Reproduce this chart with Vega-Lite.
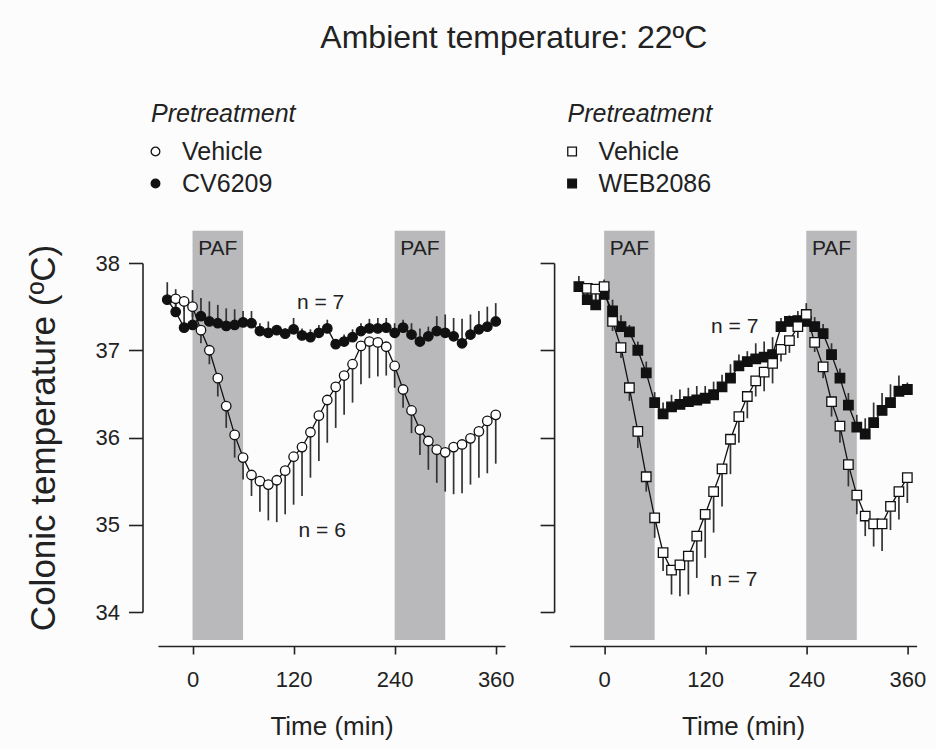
{
  "$schema": "https://vega.github.io/schema/vega-lite/v6.json",
  "background": "#fcfcfc",
  "padding": {"left": 26, "top": 22, "right": 10, "bottom": 10},
  "title": {"text": "Ambient temperature: 22ºC", "fontSize": 32, "fontWeight": "normal", "color": "#222", "anchor": "middle", "offset": 47, "dx": 38},
  "config": {
    "font": "Liberation Sans",
    "view": {"stroke": null},
    "axisX": {"offset": 34, "tickSize": 8, "domainColor": "#222", "domainWidth": 1.6, "tickColor": "#222", "tickWidth": 1.6, "labelFontSize": 22, "labelColor": "#222", "labelPadding": 15, "titleFontSize": 26, "titleFontWeight": "normal", "titleColor": "#222", "titlePadding": 23, "grid": false},
    "axisY": {"offset": 15.5, "tickSize": 14, "domainColor": "#222", "domainWidth": 1.6, "tickColor": "#222", "tickWidth": 1.6, "labelFontSize": 22, "labelColor": "#222", "labelPadding": 9, "titleFontSize": 35, "titleFontWeight": "normal", "titleColor": "#222", "titlePadding": 34, "grid": false},
    "legend": {"titleFontSize": 25, "titleFontStyle": "italic", "titleFontWeight": "normal", "titleColor": "#222", "labelFontSize": 25, "labelColor": "#222", "symbolSize": 75, "symbolStrokeWidth": 1.3, "symbolStrokeColor": "#111", "symbolOffset": -8, "rowPadding": 6, "labelOffset": 14, "titlePadding": 12, "padding": 0}
  },
  "datasets": {
    "pafL": [{"s": 0, "e": 60, "mid": 30, "label": "PAF"}, {"s": 240, "e": 300, "mid": 270, "label": "PAF"}],
    "notesL": [{"t": 152, "v": 37.54, "label": "n = 7"}, {"t": 154, "v": 34.93, "label": "n = 6"}],
    "notesR": [{"t": 155, "v": 37.27, "label": "n = 7"}, {"t": 154, "v": 34.37, "label": "n = 7"}],
    "left": [
      {"g": "CV6209", "t": -30, "m": 37.58, "e": 37.78},
      {"g": "CV6209", "t": -20, "m": 37.44, "e": 37.70},
      {"g": "CV6209", "t": -10, "m": 37.26, "e": 37.62},
      {"g": "CV6209", "t": 0, "m": 37.29, "e": 37.69},
      {"g": "CV6209", "t": 10, "m": 37.39, "e": 37.60},
      {"g": "CV6209", "t": 20, "m": 37.33, "e": 37.56},
      {"g": "CV6209", "t": 30, "m": 37.31, "e": 37.52},
      {"g": "CV6209", "t": 40, "m": 37.28, "e": 37.48},
      {"g": "CV6209", "t": 50, "m": 37.29, "e": 37.47},
      {"g": "CV6209", "t": 60, "m": 37.32, "e": 37.45},
      {"g": "CV6209", "t": 70, "m": 37.31, "e": 37.45},
      {"g": "CV6209", "t": 80, "m": 37.22, "e": 37.31},
      {"g": "CV6209", "t": 90, "m": 37.20, "e": 37.33},
      {"g": "CV6209", "t": 100, "m": 37.23, "e": 37.28},
      {"g": "CV6209", "t": 110, "m": 37.19, "e": 37.25},
      {"g": "CV6209", "t": 120, "m": 37.24, "e": 37.37},
      {"g": "CV6209", "t": 130, "m": 37.17, "e": 37.25},
      {"g": "CV6209", "t": 140, "m": 37.15, "e": 37.24},
      {"g": "CV6209", "t": 150, "m": 37.20, "e": 37.29},
      {"g": "CV6209", "t": 160, "m": 37.25, "e": 37.35},
      {"g": "CV6209", "t": 170, "m": 37.07, "e": 37.12},
      {"g": "CV6209", "t": 180, "m": 37.10, "e": 37.18},
      {"g": "CV6209", "t": 190, "m": 37.15, "e": 37.24},
      {"g": "CV6209", "t": 200, "m": 37.22, "e": 37.31},
      {"g": "CV6209", "t": 210, "m": 37.25, "e": 37.36},
      {"g": "CV6209", "t": 220, "m": 37.25, "e": 37.37},
      {"g": "CV6209", "t": 230, "m": 37.26, "e": 37.37},
      {"g": "CV6209", "t": 240, "m": 37.20, "e": 37.31},
      {"g": "CV6209", "t": 250, "m": 37.26, "e": 37.35},
      {"g": "CV6209", "t": 260, "m": 37.18, "e": 37.31},
      {"g": "CV6209", "t": 270, "m": 37.10, "e": 37.25},
      {"g": "CV6209", "t": 280, "m": 37.16, "e": 37.27},
      {"g": "CV6209", "t": 290, "m": 37.22, "e": 37.39},
      {"g": "CV6209", "t": 300, "m": 37.20, "e": 37.41},
      {"g": "CV6209", "t": 310, "m": 37.16, "e": 37.37},
      {"g": "CV6209", "t": 320, "m": 37.08, "e": 37.36},
      {"g": "CV6209", "t": 330, "m": 37.18, "e": 37.41},
      {"g": "CV6209", "t": 340, "m": 37.24, "e": 37.45},
      {"g": "CV6209", "t": 350, "m": 37.27, "e": 37.50},
      {"g": "CV6209", "t": 360, "m": 37.33, "e": 37.54},
      {"g": "Vehicle", "t": -20, "m": 37.59, "e": 37.50},
      {"g": "Vehicle", "t": -10, "m": 37.56, "e": 37.45},
      {"g": "Vehicle", "t": 0, "m": 37.50, "e": 37.38},
      {"g": "Vehicle", "t": 10, "m": 37.23, "e": 37.08},
      {"g": "Vehicle", "t": 20, "m": 37.00, "e": 36.84},
      {"g": "Vehicle", "t": 30, "m": 36.68, "e": 36.47},
      {"g": "Vehicle", "t": 40, "m": 36.36, "e": 36.11},
      {"g": "Vehicle", "t": 50, "m": 36.03, "e": 35.77},
      {"g": "Vehicle", "t": 60, "m": 35.77, "e": 35.52},
      {"g": "Vehicle", "t": 70, "m": 35.57, "e": 35.33},
      {"g": "Vehicle", "t": 80, "m": 35.50, "e": 35.15},
      {"g": "Vehicle", "t": 90, "m": 35.46, "e": 35.05},
      {"g": "Vehicle", "t": 100, "m": 35.51, "e": 35.03},
      {"g": "Vehicle", "t": 110, "m": 35.62, "e": 35.12},
      {"g": "Vehicle", "t": 120, "m": 35.78, "e": 35.23},
      {"g": "Vehicle", "t": 130, "m": 35.89, "e": 35.33},
      {"g": "Vehicle", "t": 140, "m": 36.06, "e": 35.54},
      {"g": "Vehicle", "t": 150, "m": 36.25, "e": 35.73},
      {"g": "Vehicle", "t": 160, "m": 36.43, "e": 35.94},
      {"g": "Vehicle", "t": 170, "m": 36.58, "e": 36.11},
      {"g": "Vehicle", "t": 180, "m": 36.71, "e": 36.26},
      {"g": "Vehicle", "t": 190, "m": 36.84, "e": 36.40},
      {"g": "Vehicle", "t": 200, "m": 37.05, "e": 36.61},
      {"g": "Vehicle", "t": 210, "m": 37.10, "e": 36.68},
      {"g": "Vehicle", "t": 220, "m": 37.09, "e": 36.70},
      {"g": "Vehicle", "t": 230, "m": 37.04, "e": 36.71},
      {"g": "Vehicle", "t": 240, "m": 36.82, "e": 36.57},
      {"g": "Vehicle", "t": 250, "m": 36.55, "e": 36.34},
      {"g": "Vehicle", "t": 260, "m": 36.31, "e": 36.05},
      {"g": "Vehicle", "t": 270, "m": 36.09, "e": 35.80},
      {"g": "Vehicle", "t": 280, "m": 35.96, "e": 35.63},
      {"g": "Vehicle", "t": 290, "m": 35.86, "e": 35.48},
      {"g": "Vehicle", "t": 300, "m": 35.83, "e": 35.38},
      {"g": "Vehicle", "t": 310, "m": 35.89, "e": 35.35},
      {"g": "Vehicle", "t": 320, "m": 35.92, "e": 35.36},
      {"g": "Vehicle", "t": 330, "m": 35.99, "e": 35.46},
      {"g": "Vehicle", "t": 340, "m": 36.07, "e": 35.54},
      {"g": "Vehicle", "t": 350, "m": 36.19, "e": 35.59},
      {"g": "Vehicle", "t": 360, "m": 36.26, "e": 35.70}
    ],
    "right": [
      {"g": "WEB2086", "t": -30, "m": 37.73, "e": 37.85},
      {"g": "WEB2086", "t": -20, "m": 37.58, "e": 37.72},
      {"g": "WEB2086", "t": -10, "m": 37.52, "e": 37.68},
      {"g": "WEB2086", "t": 0, "m": 37.64, "e": 37.81},
      {"g": "WEB2086", "t": 10, "m": 37.45, "e": 37.58},
      {"g": "WEB2086", "t": 20, "m": 37.27, "e": 37.40},
      {"g": "WEB2086", "t": 30, "m": 37.21, "e": 37.29},
      {"g": "WEB2086", "t": 40, "m": 37.00, "e": 37.10},
      {"g": "WEB2086", "t": 50, "m": 36.74, "e": 36.87},
      {"g": "WEB2086", "t": 60, "m": 36.40, "e": 36.52},
      {"g": "WEB2086", "t": 70, "m": 36.27, "e": 36.40},
      {"g": "WEB2086", "t": 80, "m": 36.35, "e": 36.49},
      {"g": "WEB2086", "t": 90, "m": 36.38, "e": 36.55},
      {"g": "WEB2086", "t": 100, "m": 36.41, "e": 36.57},
      {"g": "WEB2086", "t": 110, "m": 36.43, "e": 36.59},
      {"g": "WEB2086", "t": 120, "m": 36.45, "e": 36.59},
      {"g": "WEB2086", "t": 130, "m": 36.49, "e": 36.64},
      {"g": "WEB2086", "t": 140, "m": 36.58, "e": 36.72},
      {"g": "WEB2086", "t": 150, "m": 36.68, "e": 36.84},
      {"g": "WEB2086", "t": 160, "m": 36.82, "e": 36.95},
      {"g": "WEB2086", "t": 170, "m": 36.87, "e": 36.99},
      {"g": "WEB2086", "t": 180, "m": 36.90, "e": 37.08},
      {"g": "WEB2086", "t": 190, "m": 36.92, "e": 37.10},
      {"g": "WEB2086", "t": 200, "m": 36.95, "e": 37.15},
      {"g": "WEB2086", "t": 210, "m": 37.27, "e": 37.37},
      {"g": "WEB2086", "t": 220, "m": 37.33, "e": 37.40},
      {"g": "WEB2086", "t": 230, "m": 37.34, "e": 37.45},
      {"g": "WEB2086", "t": 240, "m": 37.33, "e": 37.54},
      {"g": "WEB2086", "t": 250, "m": 37.27, "e": 37.38},
      {"g": "WEB2086", "t": 260, "m": 37.19, "e": 37.30},
      {"g": "WEB2086", "t": 270, "m": 36.95, "e": 37.08},
      {"g": "WEB2086", "t": 280, "m": 36.68, "e": 36.79},
      {"g": "WEB2086", "t": 290, "m": 36.37, "e": 36.51},
      {"g": "WEB2086", "t": 300, "m": 36.12, "e": 36.26},
      {"g": "WEB2086", "t": 310, "m": 36.04, "e": 36.22},
      {"g": "WEB2086", "t": 320, "m": 36.17, "e": 36.40},
      {"g": "WEB2086", "t": 330, "m": 36.31, "e": 36.51},
      {"g": "WEB2086", "t": 340, "m": 36.40, "e": 36.61},
      {"g": "WEB2086", "t": 350, "m": 36.53, "e": 36.71},
      {"g": "WEB2086", "t": 360, "m": 36.55, "e": 36.63},
      {"g": "Vehicle", "t": -20, "m": 37.71, "e": 37.60},
      {"g": "Vehicle", "t": -10, "m": 37.70, "e": 37.58},
      {"g": "Vehicle", "t": 0, "m": 37.73, "e": 37.62},
      {"g": "Vehicle", "t": 10, "m": 37.33, "e": 37.22},
      {"g": "Vehicle", "t": 20, "m": 37.03, "e": 36.91},
      {"g": "Vehicle", "t": 30, "m": 36.57, "e": 36.42},
      {"g": "Vehicle", "t": 40, "m": 36.07, "e": 35.88},
      {"g": "Vehicle", "t": 50, "m": 35.55, "e": 35.38},
      {"g": "Vehicle", "t": 60, "m": 35.08, "e": 34.85},
      {"g": "Vehicle", "t": 70, "m": 34.68, "e": 34.47},
      {"g": "Vehicle", "t": 80, "m": 34.48, "e": 34.20},
      {"g": "Vehicle", "t": 90, "m": 34.54, "e": 34.18},
      {"g": "Vehicle", "t": 100, "m": 34.64, "e": 34.20},
      {"g": "Vehicle", "t": 110, "m": 34.87, "e": 34.39},
      {"g": "Vehicle", "t": 120, "m": 35.12, "e": 34.62},
      {"g": "Vehicle", "t": 130, "m": 35.38, "e": 34.91},
      {"g": "Vehicle", "t": 140, "m": 35.64, "e": 35.21},
      {"g": "Vehicle", "t": 150, "m": 35.98, "e": 35.58},
      {"g": "Vehicle", "t": 160, "m": 36.24, "e": 35.94},
      {"g": "Vehicle", "t": 170, "m": 36.47, "e": 36.22},
      {"g": "Vehicle", "t": 180, "m": 36.65, "e": 36.47},
      {"g": "Vehicle", "t": 190, "m": 36.75, "e": 36.53},
      {"g": "Vehicle", "t": 200, "m": 36.85, "e": 36.62},
      {"g": "Vehicle", "t": 210, "m": 37.01, "e": 36.87},
      {"g": "Vehicle", "t": 220, "m": 37.11, "e": 36.97},
      {"g": "Vehicle", "t": 230, "m": 37.27, "e": 37.14},
      {"g": "Vehicle", "t": 240, "m": 37.41, "e": 37.33},
      {"g": "Vehicle", "t": 250, "m": 37.09, "e": 36.98},
      {"g": "Vehicle", "t": 260, "m": 36.81, "e": 36.68},
      {"g": "Vehicle", "t": 270, "m": 36.41, "e": 36.24},
      {"g": "Vehicle", "t": 280, "m": 36.13, "e": 35.94},
      {"g": "Vehicle", "t": 290, "m": 35.69, "e": 35.44},
      {"g": "Vehicle", "t": 300, "m": 35.34, "e": 35.12},
      {"g": "Vehicle", "t": 310, "m": 35.10, "e": 34.87},
      {"g": "Vehicle", "t": 320, "m": 35.01, "e": 34.75},
      {"g": "Vehicle", "t": 330, "m": 35.01, "e": 34.70},
      {"g": "Vehicle", "t": 340, "m": 35.21, "e": 34.94},
      {"g": "Vehicle", "t": 350, "m": 35.38, "e": 35.06},
      {"g": "Vehicle", "t": 360, "m": 35.54, "e": 35.25}
    ]
  },
  "bounds": "flush",
  "spacing": 64.6,
  "resolve": {"scale": {"x": "independent", "y": "independent", "shape": "independent", "fill": "independent", "stroke": "independent"}, "legend": {"shape": "independent", "fill": "independent", "stroke": "independent"}},
  "hconcat": [
    {
      "width": 347,
      "height": 349,
      "layer": [
        {
          "data": {"name": "pafL"},
          "mark": {"type": "rect", "color": "#b9b9bb"},
          "encoding": {
            "x": {"field": "s", "type": "quantitative", "scale": {"domain": [-41, 371], "nice": false, "zero": false}, "axis": {"title": "Time (min)", "values": [0, 120, 240, 360], "format": "d"}},
            "x2": {"field": "e"},
            "y": {"datum": 33.68, "type": "quantitative", "scale": {"domain": [34, 38], "nice": false, "zero": false}, "axis": {"title": "Colonic temperature (ºC)", "values": [34, 35, 36, 37, 38], "format": "d"}},
            "y2": {"datum": 38.37}
          }
        },
        {
          "data": {"name": "pafL"},
          "mark": {"type": "text", "fontSize": 21, "color": "#222"},
          "encoding": {
            "x": {"field": "mid", "type": "quantitative"},
            "y": {"datum": 38.16, "type": "quantitative"},
            "text": {"field": "label"}
          }
        },
        {
          "data": {"name": "notesL"},
          "mark": {"type": "text", "fontSize": 21, "color": "#222"},
          "encoding": {
            "x": {"field": "t", "type": "quantitative"},
            "y": {"field": "v", "type": "quantitative"},
            "text": {"field": "label"}
          }
        },
        {
          "data": {"name": "left"},
          "mark": {"type": "rule", "color": "#333", "strokeWidth": 1.7},
          "encoding": {
            "x": {"field": "t", "type": "quantitative"},
            "y": {"field": "m", "type": "quantitative"},
            "y2": {"field": "e"}
          }
        },
        {
          "data": {"name": "left"},
          "mark": {"type": "line", "color": "#111", "strokeWidth": 1.3},
          "encoding": {
            "x": {"field": "t", "type": "quantitative"},
            "y": {"field": "m", "type": "quantitative"},
            "detail": {"field": "g"}
          }
        },
        {
          "data": {"name": "left"},
          "mark": {"type": "point", "filled": false, "strokeWidth": 1.3, "size": 90, "opacity": 1},
          "encoding": {
            "x": {"field": "t", "type": "quantitative"},
            "y": {"field": "m", "type": "quantitative"},
            "stroke": {"field": "g", "type": "nominal", "scale": {"domain": ["Vehicle", "CV6209"], "range": ["#111", "#111"]}, "legend": {"title": "Pretreatment", "orient": "none", "legendX": -7, "legendY": -161}},
            "fill": {"field": "g", "type": "nominal", "scale": {"domain": ["Vehicle", "CV6209"], "range": ["white", "#111"]}, "legend": {"title": "Pretreatment", "orient": "none", "legendX": -7, "legendY": -161}},
            "shape": {"field": "g", "type": "nominal", "scale": {"domain": ["Vehicle", "CV6209"], "range": ["circle", "circle"]}, "legend": {"title": "Pretreatment", "orient": "none", "legendX": -7, "legendY": -161}}
          }
        }
      ]
    },
    {
      "width": 347,
      "height": 349,
      "layer": [
        {
          "data": {"name": "pafL"},
          "mark": {"type": "rect", "color": "#b9b9bb"},
          "encoding": {
            "x": {"field": "s", "type": "quantitative", "scale": {"domain": [-41, 371], "nice": false, "zero": false}, "axis": {"title": "Time (min)", "values": [0, 120, 240, 360], "format": "d"}},
            "x2": {"field": "e"},
            "y": {"datum": 33.68, "type": "quantitative", "scale": {"domain": [34, 38], "nice": false, "zero": false}, "axis": {"title": null, "labels": false, "values": [34, 35, 36, 37, 38]}},
            "y2": {"datum": 38.37}
          }
        },
        {
          "data": {"name": "pafL"},
          "mark": {"type": "text", "fontSize": 21, "color": "#222"},
          "encoding": {
            "x": {"field": "mid", "type": "quantitative"},
            "y": {"datum": 38.16, "type": "quantitative"},
            "text": {"field": "label"}
          }
        },
        {
          "data": {"name": "notesR"},
          "mark": {"type": "text", "fontSize": 21, "color": "#222"},
          "encoding": {
            "x": {"field": "t", "type": "quantitative"},
            "y": {"field": "v", "type": "quantitative"},
            "text": {"field": "label"}
          }
        },
        {
          "data": {"name": "right"},
          "mark": {"type": "rule", "color": "#333", "strokeWidth": 1.7},
          "encoding": {
            "x": {"field": "t", "type": "quantitative"},
            "y": {"field": "m", "type": "quantitative"},
            "y2": {"field": "e"}
          }
        },
        {
          "data": {"name": "right"},
          "mark": {"type": "line", "color": "#111", "strokeWidth": 1.3},
          "encoding": {
            "x": {"field": "t", "type": "quantitative"},
            "y": {"field": "m", "type": "quantitative"},
            "detail": {"field": "g"}
          }
        },
        {
          "data": {"name": "right"},
          "mark": {"type": "point", "filled": false, "strokeWidth": 1.3, "size": 90, "opacity": 1},
          "encoding": {
            "x": {"field": "t", "type": "quantitative"},
            "y": {"field": "m", "type": "quantitative"},
            "stroke": {"field": "g", "type": "nominal", "scale": {"domain": ["Vehicle", "WEB2086"], "range": ["#111", "#111"]}, "legend": {"title": "Pretreatment", "orient": "none", "legendX": -2, "legendY": -161}},
            "fill": {"field": "g", "type": "nominal", "scale": {"domain": ["Vehicle", "WEB2086"], "range": ["white", "#111"]}, "legend": {"title": "Pretreatment", "orient": "none", "legendX": -2, "legendY": -161}},
            "shape": {"field": "g", "type": "nominal", "scale": {"domain": ["Vehicle", "WEB2086"], "range": ["square", "square"]}, "legend": {"title": "Pretreatment", "orient": "none", "legendX": -2, "legendY": -161}}
          }
        }
      ]
    }
  ]
}
